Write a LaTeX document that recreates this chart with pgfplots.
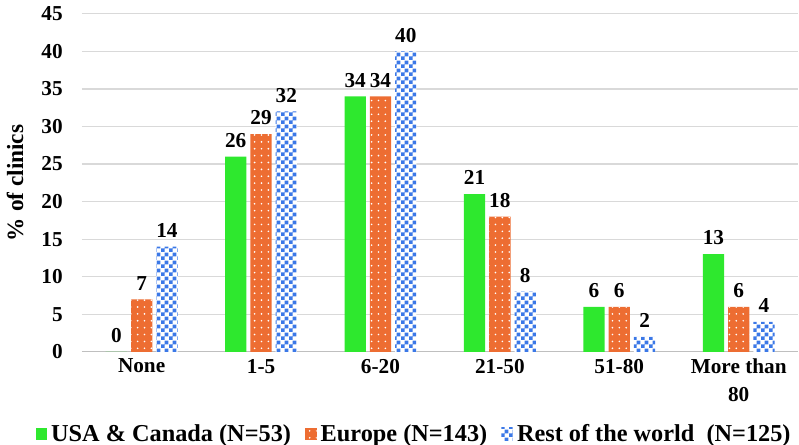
\documentclass[border=0pt]{standalone}
\usepackage{pgfplots}
\pgfplotsset{compat=1.18}
\usepackage{fontspec}
\setmainfont{Liberation Serif}
\usetikzlibrary{patterns}
\pgfdeclarepatternformonly{smallchecker}{\pgfpointorigin}{\pgfqpoint{4pt}{4pt}}{\pgfqpoint{4pt}{4pt}}{%
  \pgfpathrectangle{\pgfpointorigin}{\pgfqpoint{2pt}{2pt}}%
  \pgfpathrectangle{\pgfqpoint{2pt}{2pt}}{\pgfqpoint{2pt}{2pt}}%
  \pgfusepath{fill}}
\pgfdeclarepatternformonly{smalldots}{\pgfqpoint{-1pt}{-1pt}}{\pgfqpoint{1pt}{1pt}}{\pgfqpoint{3.4pt}{3.4pt}}{%
  \pgfpathcircle{\pgfpointorigin}{0.45pt}%
  \pgfusepath{fill}}
\definecolor{mygreen}{RGB}{46,232,46}
\definecolor{myorange}{RGB}{237,109,50}
\definecolor{myblue}{RGB}{59,120,231}
\definecolor{gridgray}{RGB}{217,217,217}
\begin{document}
\begin{tikzpicture}
\begin{axis}[
  scale only axis,
  width=354pt, height=167pt,
  ybar, bar width=10.5pt,
  ymin=0, ymax=45, ytick={0,5,...,45},
  xmin=-0.5, xmax=5.5,
  xtick={0,1,2,3,4,5},
  xticklabels={None,1-5,6-20,21-50,51-80,{More than\\80}},
  xticklabel style={align=center, font=\bfseries\fontsize{10.5}{13.5}\selectfont},
  yticklabel style={font=\bfseries\fontsize{10.5}{13}\selectfont, xshift=-6pt},
  /pgf/number format/assume math mode=true,
  major tick length=0pt,
  axis lines*=left,
  y axis line style={draw=none},
  x axis line style={draw=gray!50, line width=0.6pt},
  ymajorgrids, grid style={gridgray, line width=0.6pt},
  ylabel={\% of clinics},
  ylabel style={font=\bfseries\fontsize{11.5}{13}\selectfont},
  ylabel shift=2pt,
  nodes near coords,
  every node near coord/.append style={font=\bfseries\fontsize{10.5}{13}\selectfont, text=black, yshift=1pt},
  legend style={at={(0.465,-0.215)}, anchor=north, draw=none, legend columns=-1,
    inner sep=0pt, outer sep=0pt, nodes={inner ysep=0pt, outer sep=0pt},
    font=\bfseries\fontsize{12}{14}\selectfont,
    /tikz/every even column/.append style={column sep=5pt}},
  legend image code/.code={\draw[#1, draw=none] (0cm,-0.1cm) rectangle (0.2cm,0.12cm);},
]
\addplot[fill=mygreen, draw=none] coordinates {(0,0) (1,26) (2,34) (3,21) (4,6) (5,13)};
\addplot[fill=myorange, draw=none, postaction={pattern=smalldots, pattern color=white}] coordinates {(0,7) (1,29) (2,34) (3,18) (4,6) (5,6)};
\addplot[fill=white, draw=none, postaction={pattern=smallchecker, pattern color=myblue}] coordinates {(0,14) (1,32) (2,40) (3,8) (4,2) (5,4)};
\legend{USA \& Canada (N=53), Europe (N=143), Rest of the world\ \ (N=125)}
\end{axis}
\end{tikzpicture}
\end{document}
